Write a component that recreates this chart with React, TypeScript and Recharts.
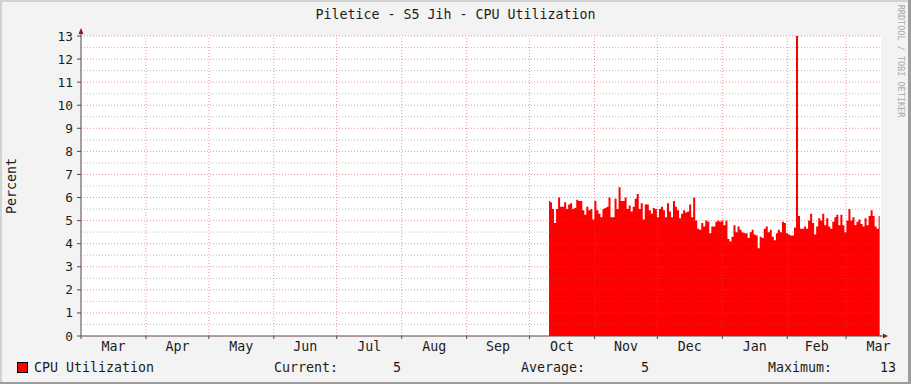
import { Area, AreaChart, CartesianGrid, ReferenceLine, XAxis, YAxis } from 'recharts'

// calendar of the visible window, starting 1 March
const MONTH_NAMES = ['Mar', 'Apr', 'May', 'Jun', 'Jul', 'Aug', 'Sep', 'Oct', 'Nov', 'Dec', 'Jan', 'Feb', 'Mar']
const MONTH_DAYS = [31, 30, 31, 30, 31, 31, 30, 31, 30, 31, 31, 28, 31]
const VISIBLE_DAYS = 381.7

const Y_MAJOR = [0, 1, 2, 3, 4, 5, 6, 7, 8, 9, 10, 11, 12, 13]
const Y_MINOR = [0.5, 1.5, 2.5, 3.5, 4.5, 5.5, 6.5, 7.5, 8.5, 9.5, 10.5, 11.5, 12.5]

// samples start ~10 Oct, one sample per ~0.96 day
const CPU_START_DAY = 223.3
const CPU_STEP_DAYS = 0.962

const cpuBlock1 = [
  5.85, 5.8, 5.5, 4.9, 5.5, 6.0, 5.6, 5.6, 5.8, 5.5, 5.7, 5.75, 5.5, 5.55, 5.9, 5.85, 5.85, 5.45, 5.25, 5.6, 5.45,
  5.5, 5.05, 5.85, 5.45, 5.3, 5.15, 5.5, 5.55, 5.6, 6.0, 5.15, 5.15, 5.95, 5.5, 6.45, 5.85, 5.85, 6.0, 5.5, 5.65,
]
const cpuBlock2 = [
  5.4, 5.6, 5.95, 6.15, 5.5, 5.75, 5.05, 5.7, 5.7, 5.45, 5.3, 5.55, 5.5, 5.15, 5.5, 5.6, 5.45, 5.15, 5.75, 5.4, 5.15,
  5.85, 5.6, 5.45, 5.1, 5.3, 5.45, 5.35, 5.4, 5.7, 5.15, 6.0, 5.0, 4.65, 4.6, 4.9, 4.75, 5.0, 4.95, 4.45, 4.75, 4.75,
]
const cpuBlock3 = [
  4.95, 5.0, 4.95, 5.0, 4.8, 5.0, 4.2, 4.1, 4.3, 4.8, 4.5, 4.75, 4.6, 4.5, 4.45, 4.45, 4.25, 4.5, 4.6, 4.4, 4.35, 3.8,
  4.3, 4.25, 4.65, 4.75, 4.5, 4.6, 4.3, 4.15, 4.45, 4.6, 4.5, 4.95, 4.9, 4.45, 4.4, 4.35, 4.35, 4.7,
]
const cpuSpike = [13]
const cpuBlock4 = [
  5.2, 4.65, 4.65, 4.75, 4.65, 5.0, 5.3, 4.9, 4.4, 4.75, 5.1, 5.0, 5.3, 4.8, 5.1, 4.75, 4.65, 4.95, 5.15, 5.25, 4.8,
  5.25, 4.8, 4.5, 5.0, 5.5, 5.0, 5.15, 4.8, 4.95, 5.05, 4.85, 4.75, 5.1, 4.8, 5.2, 5.45, 5.2, 4.75, 4.65, 5.2,
]

const cpuValues = [...cpuBlock1, ...cpuBlock2, ...cpuBlock3, ...cpuSpike, ...cpuBlock4]
const data = cpuValues.map((cpu, i) => ({ day: CPU_START_DAY + i * CPU_STEP_DAYS, cpu }))

const monthStarts = MONTH_DAYS.map((_, i) => MONTH_DAYS.slice(0, i).reduce((a, b) => a + b, 0))
const monthMids = monthStarts.map((s, i) => s + MONTH_DAYS[i] / 2)

const current = cpuValues[cpuValues.length - 1]
const average = cpuValues.reduce((a, b) => a + b, 0) / cpuValues.length
const maximum = Math.max(...cpuValues)

const MONO = '"DejaVu Sans Mono", monospace'
const TEXT = '#1c1c1c'
const MAJOR = 'rgba(225,60,60,0.55)'
const MINOR = 'rgba(110,110,110,0.45)'
const AXIS = '#5c4444'
const ARROW = '#8a1c1c'

const legendText: React.CSSProperties = {
  position: 'absolute',
  top: 360,
  fontFamily: MONO,
  fontSize: 13.3,
  lineHeight: '16px',
  color: TEXT,
  whiteSpace: 'pre',
}

export default function App() {
  return (
    <div style={{ position: 'absolute', left: 0, top: 0, width: 911, height: 384, background: '#f3f3f3', overflow: 'hidden' }}>
      <div style={{ position: 'absolute', left: 0, top: 0, width: 911, height: 2, background: '#d2d2d2' }} />
      <div style={{ position: 'absolute', left: 0, top: 0, width: 2, height: 384, background: '#d2d2d2' }} />
      <div style={{ position: 'absolute', right: 0, top: 0, width: 3, height: 384, background: '#9c9c9c' }} />
      <div style={{ position: 'absolute', left: 0, bottom: 0, width: 911, height: 2, background: '#9c9c9c' }} />

      <div style={{ position: 'absolute', left: 0, top: 7, width: 911, textAlign: 'center', fontFamily: MONO, fontSize: 13.3, lineHeight: '16px', color: TEXT }}>
        Piletice - S5 Jih - CPU Utilization
      </div>
      <div style={{ position: 'absolute', left: 11, top: 186, transform: 'translate(-50%, -50%) rotate(-90deg)', fontFamily: MONO, fontSize: 13.3, color: TEXT, whiteSpace: 'pre' }}>
        Percent
      </div>
      <div style={{ position: 'absolute', left: 901, top: 61, transform: 'translate(-50%, -50%) rotate(90deg)', fontFamily: MONO, fontSize: 8.5, color: '#a9a9a9', whiteSpace: 'pre' }}>
        RRDTOOL / TOBI OETIKER
      </div>

      <AreaChart width={911} height={384} data={data} margin={{ top: 36, right: 30, bottom: 0, left: 0 }} style={{ position: 'absolute', left: 0, top: 0 }}>
        <CartesianGrid horizontal={false} vertical={false} fill="#ffffff" fillOpacity={1} stroke="none" />
        <XAxis
          type="number"
          dataKey="day"
          domain={[0, VISIBLE_DAYS]}
          allowDataOverflow
          ticks={monthStarts}
          interval={0}
          height={1}
          tickSize={3}
          tickFormatter={() => ''}
          axisLine={{ stroke: AXIS }}
          tickLine={{ stroke: AXIS }}
        />
        <XAxis
          xAxisId="labels"
          type="number"
          dataKey="day"
          domain={[0, VISIBLE_DAYS]}
          allowDataOverflow
          ticks={monthMids}
          interval={0}
          height={47}
          tickSize={0}
          tickMargin={5}
          axisLine={false}
          tickLine={false}
          tickFormatter={(v: number) => MONTH_NAMES[monthMids.indexOf(v)] ?? ''}
          tick={{ fontFamily: MONO, fontSize: 13.3, fill: TEXT }}
        />
        <YAxis
          type="number"
          domain={[0, 13]}
          ticks={Y_MAJOR}
          interval={0}
          width={81}
          tickSize={4}
          tickMargin={4}
          axisLine={{ stroke: AXIS }}
          tickLine={{ stroke: AXIS }}
          tick={{ fontFamily: MONO, fontSize: 12.8, fill: TEXT }}
        />
        <Area type="step" dataKey="cpu" stroke="none" fill="#ff0000" fillOpacity={1} isAnimationActive={false} />
        {Y_MINOR.map((v) => (
          <ReferenceLine key={`m${v}`} y={v} stroke={MINOR} strokeDasharray="1 2" />
        ))}
        {Y_MAJOR.slice(1).map((v) => (
          <ReferenceLine key={`M${v}`} y={v} stroke={MAJOR} strokeDasharray="1 2" />
        ))}
        {monthStarts.slice(1).map((d) => (
          <ReferenceLine key={`x${d}`} x={d} stroke={MAJOR} strokeDasharray="1 2" />
        ))}
      </AreaChart>

      <svg width={911} height={384} style={{ position: 'absolute', left: 0, top: 0, pointerEvents: 'none' }}>
        <line x1={81} y1={36} x2={81} y2={31} stroke={AXIS} />
        <polygon points="78.5,34 83.5,34 81,28" fill={ARROW} />
        <line x1={880} y1={336} x2={884} y2={336} stroke={AXIS} />
        <polygon points="883,333.5 883,338.5 888,336" fill={ARROW} />
      </svg>

      <div style={{ position: 'absolute', left: 17, top: 362, width: 9, height: 9, background: '#ff0000', border: '1px solid #000' }} />
      <div style={{ ...legendText, left: 34 }}>CPU Utilization</div>
      <div style={{ ...legendText, left: 274 }}>Current:</div>
      <div style={{ ...legendText, right: 510, textAlign: 'right' }}>{current.toFixed(0)}</div>
      <div style={{ ...legendText, left: 521 }}>Average:</div>
      <div style={{ ...legendText, right: 262, textAlign: 'right' }}>{average.toFixed(0)}</div>
      <div style={{ ...legendText, left: 768 }}>Maximum:</div>
      <div style={{ ...legendText, right: 15, textAlign: 'right' }}>{maximum.toFixed(0)}</div>
    </div>
  )
}
